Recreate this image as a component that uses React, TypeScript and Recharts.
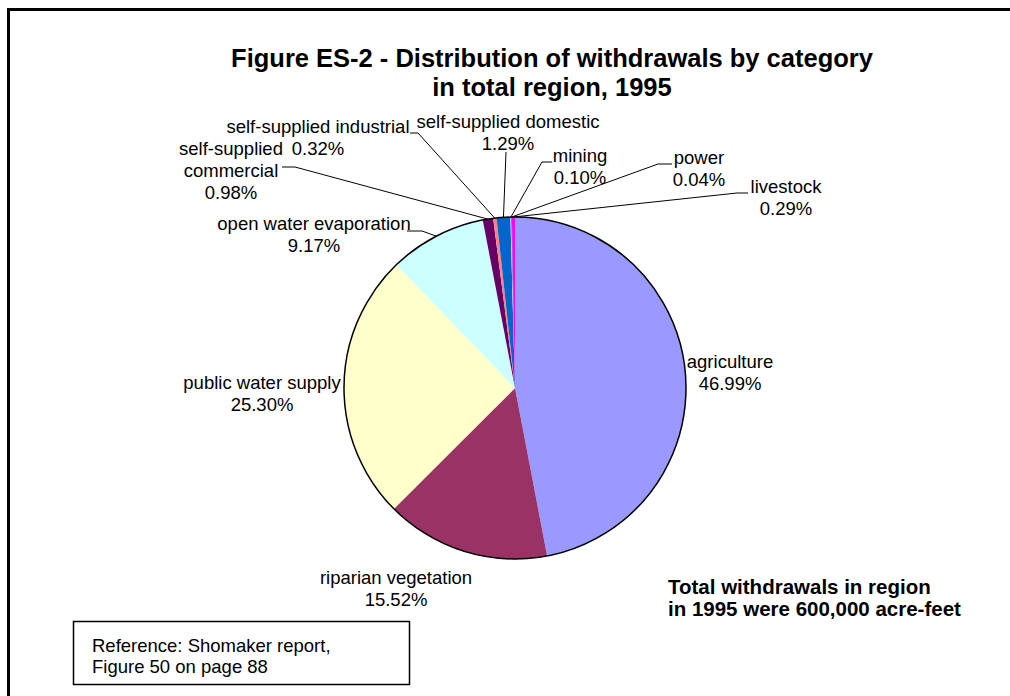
import React from 'react';
import { PieChart, Pie, Cell } from 'recharts';

const categories = [
  'agriculture',
  'riparian vegetation',
  'public water supply',
  'open water evaporation',
  'self-supplied commercial',
  'self-supplied industrial',
  'self-supplied domestic',
  'mining',
  'power',
  'livestock',
];
const shares = [46.99, 15.52, 25.3, 9.17, 0.98, 0.32, 1.29, 0.1, 0.04, 0.29];
const colors = ['#9999FF', '#993366', '#FFFFCC', '#CCFFFF', '#660066', '#FF8080', '#0066CC', '#CCCCFF', '#000080', '#FF00FF'];

const titleLines = ['Figure ES-2 - Distribution of withdrawals by category', 'in total region, 1995'];
const noteLines = ['Total withdrawals in region', 'in 1995 were 600,000 acre-feet'];
const referenceLines = ['Reference: Shomaker report,', 'Figure 50 on page 88'];

// label layout: text anchor offsets from pie centre and leader-line elbow points
type Layout = { dx: number; dy: number; wrap?: boolean; lead?: number[][] };
const labelLayout: Layout[] = [
  { dx: 215, dy: -27 },
  { dx: -119, dy: 189 },
  { dx: -253, dy: -6 },
  { dx: -201, dy: -165, lead: [[-108, -157], [-93, -157]] },
  { dx: -284, dy: -240, wrap: true, lead: [[-233, -221], [-220, -221]] },
  { dx: -197, dy: -262, lead: [[-105, -255], [-97, -255]] },
  { dx: -7, dy: -267, lead: [[-9, -236]] },
  { dx: 65, dy: -233, lead: [[37, -226], [27, -226]] },
  { dx: 184, dy: -231, lead: [[157, -224], [143, -224]] },
  { dx: 271, dy: -202, lead: [[233, -195], [222, -195]] },
];

const data = categories.map((name, i) => ({ name, value: shares[i] }));
const outline = [{ name: 'outline', value: 1 }];

const FONT = '"Liberation Sans", Arial, sans-serif';
const RAD = Math.PI / 180;
const LINE_H = 22;

const renderLabel = (props: any) => {
  const { cx, cy, midAngle, outerRadius, index, name, value } = props;
  const lay = labelLayout[index];
  const tx = cx + lay.dx;
  const ty = cy + lay.dy;
  let lines: string[];
  if (lay.wrap) {
    const k = name.indexOf(' ');
    lines = [name.slice(0, k), name.slice(k + 1)];
  } else {
    lines = [name];
  }
  lines.push(`${Number(value).toFixed(2)}%`);
  let path = null;
  if (lay.lead) {
    const ex = cx + outerRadius * Math.cos(-midAngle * RAD);
    const ey = cy + outerRadius * Math.sin(-midAngle * RAD);
    const pts = lay.lead.map((p) => `${cx + p[0]},${cy + p[1]}`);
    pts.push(`${ex},${ey}`);
    path = <polyline points={pts.join(' ')} fill="none" stroke="#000" strokeWidth={1} />;
  }
  return (
    <g key={`lbl-${index}`}>
      {path}
      {lines.map((t, j) => (
        <text
          key={j}
          x={tx}
          y={ty + j * LINE_H}
          textAnchor="middle"
          dominantBaseline="central"
          fontFamily={FONT}
          fontSize={18.5}
          fill="#000"
        >
          {t}
        </text>
      ))}
    </g>
  );
};

export default function App() {
  const W = 1010;
  const H = 696;
  const CX = 515;
  const CY = 388;
  const R = 171;
  return (
    <div style={{ position: 'fixed', left: 0, top: 0, width: W, height: H, background: '#fff' }}>
      <PieChart width={W} height={H} margin={{ top: 0, right: 0, bottom: 0, left: 0 }}>
        <Pie
          data={data}
          dataKey="value"
          nameKey="name"
          cx={CX}
          cy={CY}
          outerRadius={R}
          startAngle={90}
          endAngle={-270}
          stroke="none"
          label={renderLabel}
          labelLine={false}
          isAnimationActive={false}
        >
          {data.map((d, i) => (
            <Cell key={d.name} fill={colors[i]} stroke="none" />
          ))}
        </Pie>
        <Pie
          data={outline}
          dataKey="value"
          cx={CX}
          cy={CY}
          innerRadius={R}
          outerRadius={R}
          startAngle={90}
          endAngle={-270}
          fill="none"
          stroke="#000"
          strokeWidth={1.5}
          isAnimationActive={false}
          legendType="none"
        />
      </PieChart>
      <svg width={W} height={H} style={{ position: 'absolute', left: 0, top: 0, pointerEvents: 'none' }}>
        <rect x={8.5} y={9.5} width={1200} height={900} fill="none" stroke="#000" strokeWidth={3} />
        {titleLines.map((t, i) => (
          <text
            key={t}
            x={552}
            y={58 + i * 29}
            textAnchor="middle"
            dominantBaseline="central"
            fontFamily={FONT}
            fontWeight="bold"
            fontSize={25.5}
            fill="#000"
          >
            {t}
          </text>
        ))}
        {noteLines.map((t, i) => (
          <text
            key={t}
            x={668}
            y={586 + i * 22}
            dominantBaseline="central"
            fontFamily={FONT}
            fontWeight="bold"
            fontSize={20.5}
            fill="#000"
          >
            {t}
          </text>
        ))}
        <rect x={73.5} y={621.5} width={336} height={63} fill="#fff" stroke="#000" strokeWidth={1.5} />
        {referenceLines.map((t, i) => (
          <text
            key={t}
            x={92}
            y={645 + i * 21}
            dominantBaseline="central"
            fontFamily={FONT}
            fontSize={18.5}
            fill="#000"
          >
            {t}
          </text>
        ))}
      </svg>
    </div>
  );
}
